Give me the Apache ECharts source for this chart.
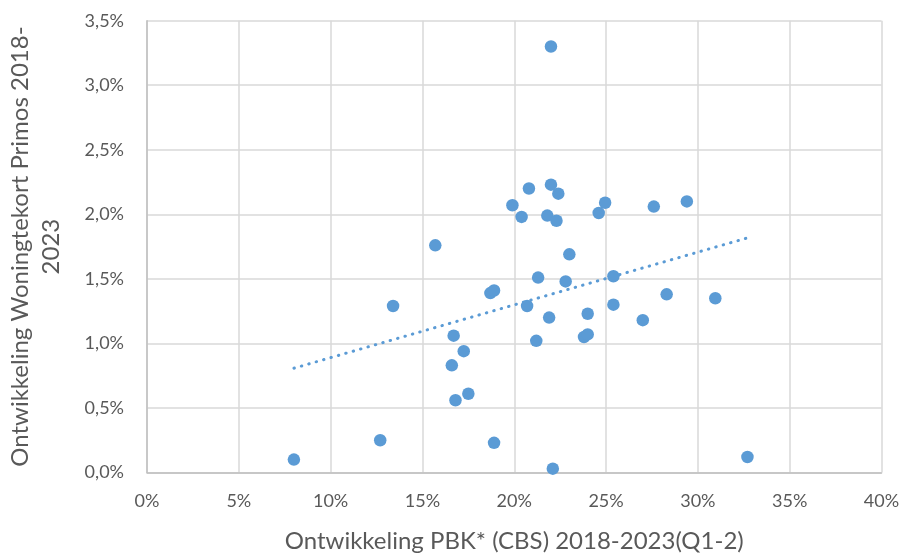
<!DOCTYPE html>
<html>
<head>
<meta charset="utf-8">
<script src="https://cdn.jsdelivr.net/npm/echarts@6/dist/echarts.min.js"></script>
<style>
  html, body { margin: 0; padding: 0; background: #fff; }
  #chart { width: 905px; height: 559px; }
</style>
</head>
<body>
<div id="chart"></div>
<script>
// ontwikkeling PBK (x, %) en woningtekort (y, %)
var pbk = [8.0, 12.7, 13.4, 15.7, 16.6, 16.7, 16.8, 17.25, 17.5, 18.9,
  18.7, 18.9, 19.9, 20.4, 20.8, 20.7, 21.2, 21.3, 21.9, 21.8,
  22.0, 22.0, 22.1, 22.3, 22.4, 22.8, 23.0, 23.8, 24.0, 24.0,
  24.6, 24.95, 25.4, 25.4, 27.0, 27.6, 28.3, 29.4, 30.95, 32.7];
var tekort = [0.10, 0.25, 1.29, 1.76, 0.83, 1.06, 0.56, 0.94, 0.61, 0.23,
  1.39, 1.41, 2.07, 1.98, 2.20, 1.29, 1.02, 1.51, 1.20, 1.99,
  3.30, 2.23, 0.03, 1.95, 2.16, 1.48, 1.69, 1.05, 1.07, 1.23,
  2.01, 2.09, 1.52, 1.30, 1.18, 2.06, 1.38, 2.10, 1.35, 0.12];
var trendX = [8.0, 32.66];
var trendY = [0.808, 1.816];

var xTitle = 'Ontwikkeling PBK* (CBS) 2018-2023(Q1-2)';
var yTitle = 'Ontwikkeling Woningtekort Primos 2018-\n2023';

var chart = echarts.init(document.getElementById('chart'));
var font = 'Lato';

var points = pbk.map(function (x, i) { return [x, tekort[i]]; });
var trend = trendX.map(function (x, i) { return [x, trendY[i]]; });

var option = {
  animation: false,
  grid: { left: 147, right: 23.5, top: 20.7, bottom: 86.5, outerBoundsMode: 'none', containLabel: false },
  xAxis: {
    type: 'value',
    min: 0, max: 40, interval: 5,
    name: xTitle,
    nameLocation: 'middle',
    nameGap: 57,
    nameTextStyle: { color: '#595959', fontSize: 24, fontFamily: font },
    axisLine: { show: true, lineStyle: { color: '#bfbfbf', width: 1.5 } },
    axisTick: { show: false },
    axisLabel: {
      color: '#595959', fontSize: 18, fontFamily: font, margin: 20,
      formatter: function (v) { return v + '%'; }
    },
    splitLine: { show: true, lineStyle: { color: '#d9d9d9', width: 1.5 } }
  },
  yAxis: {
    type: 'value',
    min: 0, max: 3.5, interval: 0.5,
    name: yTitle,
    nameLocation: 'middle',
    nameRotate: 90,
    nameGap: 80,
    nameTextStyle: { color: '#595959', fontSize: 24, fontFamily: font, lineHeight: 31 },
    axisLine: { show: true, lineStyle: { color: '#bfbfbf', width: 1.5 } },
    axisTick: { show: false },
    axisLabel: {
      color: '#595959', fontSize: 18, fontFamily: font, margin: 23,
      formatter: function (v) { return v.toFixed(1).replace('.', ',') + '%'; }
    },
    splitLine: { show: true, lineStyle: { color: '#d9d9d9', width: 1.5 } }
  },
  series: [
    {
      type: 'line',
      data: trend,
      symbol: 'none',
      silent: true,
      lineStyle: { color: '#5b9bd5', width: 3, type: [0.5, 7.2], cap: 'round' },
      z: 1
    },
    {
      type: 'scatter',
      data: points,
      symbolSize: 12.5,
      itemStyle: { color: '#5b9bd5', opacity: 1 },
      z: 2
    }
  ]
};

chart.setOption(option);
</script>
</body>
</html>
